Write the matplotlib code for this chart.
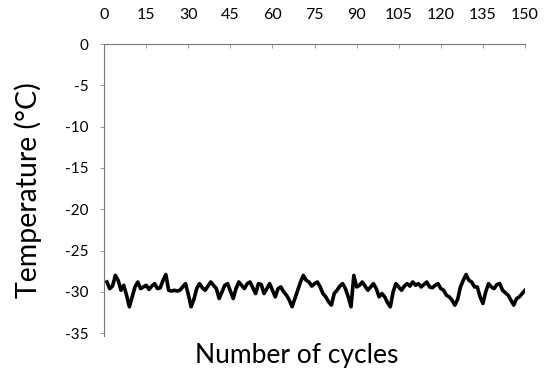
import numpy as np
import matplotlib
matplotlib.use("Agg")
import matplotlib.pyplot as plt

plt.rcParams['font.family'] = ['Lato', 'DejaVu Sans']

cycles = list(range(1, 151))
temps = [
    -28.8, -29.6, -29.3, -28.0, -28.6, -29.8, -29.2, -30.4, -31.8, -30.6,
    -29.4, -28.8, -29.6, -29.4, -29.2, -29.7, -29.3, -29.0, -29.6, -29.5,
    -28.6, -27.9, -29.8, -29.9, -29.8, -29.9, -29.8, -29.4, -29.0, -30.3,
    -31.8, -30.9, -29.6, -29.0, -29.5, -29.8, -29.3, -28.8, -29.2, -29.6,
    -30.8, -30.0, -29.2, -29.0, -29.9, -30.8, -29.6, -28.8, -29.2, -29.6,
    -29.0, -28.8, -29.5, -30.2, -29.0, -29.1, -30.2, -29.6, -29.0, -29.8,
    -30.6, -29.6, -29.4, -30.0, -30.4, -31.0, -31.8, -30.8, -29.8, -28.8,
    -28.0, -28.6, -28.8, -29.3, -29.0, -28.8, -29.4, -30.2, -30.6, -31.2,
    -31.6, -30.2, -29.8, -29.3, -29.0, -29.6, -30.6, -31.8, -28.0, -29.4,
    -29.2, -28.8, -29.3, -29.8, -29.4, -29.0, -29.6, -30.6, -30.2, -30.6,
    -31.3, -31.8, -30.0, -29.0, -29.4, -29.8, -29.3, -29.0, -29.3, -28.8,
    -29.2, -29.0, -29.4, -29.1, -28.8, -29.4, -29.5, -29.2, -29.0, -29.6,
    -29.8, -30.4, -30.6, -31.0, -31.6, -30.9, -29.4, -28.6, -27.9, -28.6,
    -28.8, -29.4, -29.4, -30.6, -31.4, -30.0, -29.0, -29.4, -29.6, -29.1,
    -29.0, -29.8, -30.1, -30.4, -31.0, -31.6, -30.8, -30.6, -30.2, -29.8,
]
xticks = list(range(0, 151, 15))
yticks = list(range(0, -36, -5))

fig = plt.figure(figsize=(5.48, 3.73), dpi=100)
ax = fig.add_axes([0.19, 0.1, 0.768, 0.782])

ax.plot(cycles, temps, color='black', lw=2.6)

ax.set_xlim(0, 150)
ax.set_ylim(-35.3, 0)
ax.set_xticks(xticks)
ax.set_yticks(yticks)
ax.set_yticklabels([str(t) for t in yticks])

ax.xaxis.tick_top()
ax.tick_params(axis='x', direction='in', length=3, width=0.6, color='#888888',
               labelsize=11.5, pad=16)
ax.tick_params(axis='y', direction='out', length=3, width=0.6, color='#888888',
               labelsize=11, pad=8)

for side in ['right', 'bottom']:
    ax.spines[side].set_visible(False)
for side in ['left', 'top']:
    ax.spines[side].set_linestyle((0, (1, 1)))
    ax.spines[side].set_color('#777777')
    ax.spines[side].set_linewidth(0.8)

fig.text(0.542, 0.048, 'Number of cycles', ha='center', va='center', fontsize=19)
fig.text(0.052, 0.49, 'Temperature (°C)', ha='center', va='center',
         rotation=90, fontsize=20.5)

fig.savefig('out.png', dpi=100)
